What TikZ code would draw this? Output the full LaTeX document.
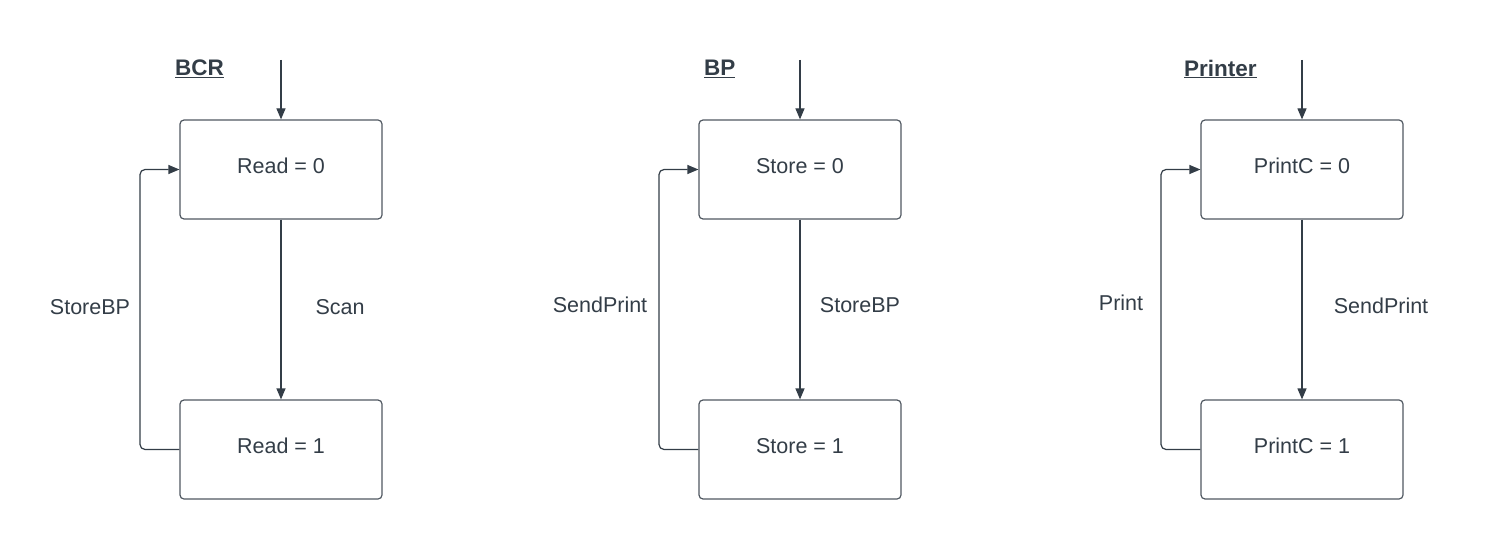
\documentclass[tikz,border=0pt]{standalone}
\usepackage{fontspec}
\setmainfont{Liberation Sans}
\usetikzlibrary{arrows.meta}
\definecolor{ink}{HTML}{333D47}
\definecolor{boxline}{HTML}{505861}
\tikzset{
  statebox/.style={draw=boxline, line width=1.2pt, rounded corners=4pt, minimum width=202pt, minimum height=99pt, inner sep=0pt, text depth=7pt, text=ink, font=\fontsize{21.5}{24}\selectfont},
  conn/.style={draw=ink, line width=1.2pt, -{Triangle[length=11pt,width=9pt]}},
  lbl/.style={text=ink, font=\fontsize{21.5}{24}\selectfont, inner sep=0pt},
  ttl/.style={text=ink, font=\fontsize{22.5}{25}\selectfont\bfseries, inner sep=0pt, anchor=west},
}
\begin{document}
\begin{tikzpicture}[x=1pt,y=-1pt]
\useasboundingbox (0,0) rectangle (1501,540);
% column 1
\node[statebox] (r0) at (281,169.5) {Read = 0};
\node[statebox] (r1) at (281,449.5) {Read = 1};
\coordinate (r0in) at (281,60);
\node[ttl] (t1) at (175,69) {\underline{BCR}};
\draw[conn] (r0in) -- (r0.north);
\draw[conn] (r0.south) -- (r1.north);
\draw[conn, rounded corners=5pt] (r1.west) -- (140,449.5) -- (140,169.5) -- (r0.west);
\node[lbl] (l1a) at (90,307) {StoreBP};
\node[lbl] (l1b) at (340,307) {Scan};
% column 2
\node[statebox] (s0) at (800,169.5) {Store = 0};
\node[statebox] (s1) at (800,449.5) {Store = 1};
\coordinate (s0in) at (800,60);
\node[ttl] (t2) at (704,69) {\underline{BP}};
\draw[conn] (s0in) -- (s0.north);
\draw[conn] (s0.south) -- (s1.north);
\draw[conn, rounded corners=5pt] (s1.west) -- (659,449.5) -- (659,169.5) -- (s0.west);
\node[lbl] (l2a) at (600,305) {SendPrint};
\node[lbl] (l2b) at (860,305) {StoreBP};
% column 3
\node[statebox] (p0) at (1302,169.5) {PrintC = 0};
\node[statebox] (p1) at (1302,449.5) {PrintC = 1};
\coordinate (p0in) at (1302,60);
\node[ttl] (t3) at (1184,69) {\underline{Printer}};
\draw[conn] (p0in) -- (p0.north);
\draw[conn] (p0.south) -- (p1.north);
\draw[conn, rounded corners=5pt] (p1.west) -- (1161,449.5) -- (1161,169.5) -- (p0.west);
\node[lbl] (l3a) at (1121,303) {Print};
\node[lbl] (l3b) at (1381,306) {SendPrint};
\end{tikzpicture}
\end{document}
